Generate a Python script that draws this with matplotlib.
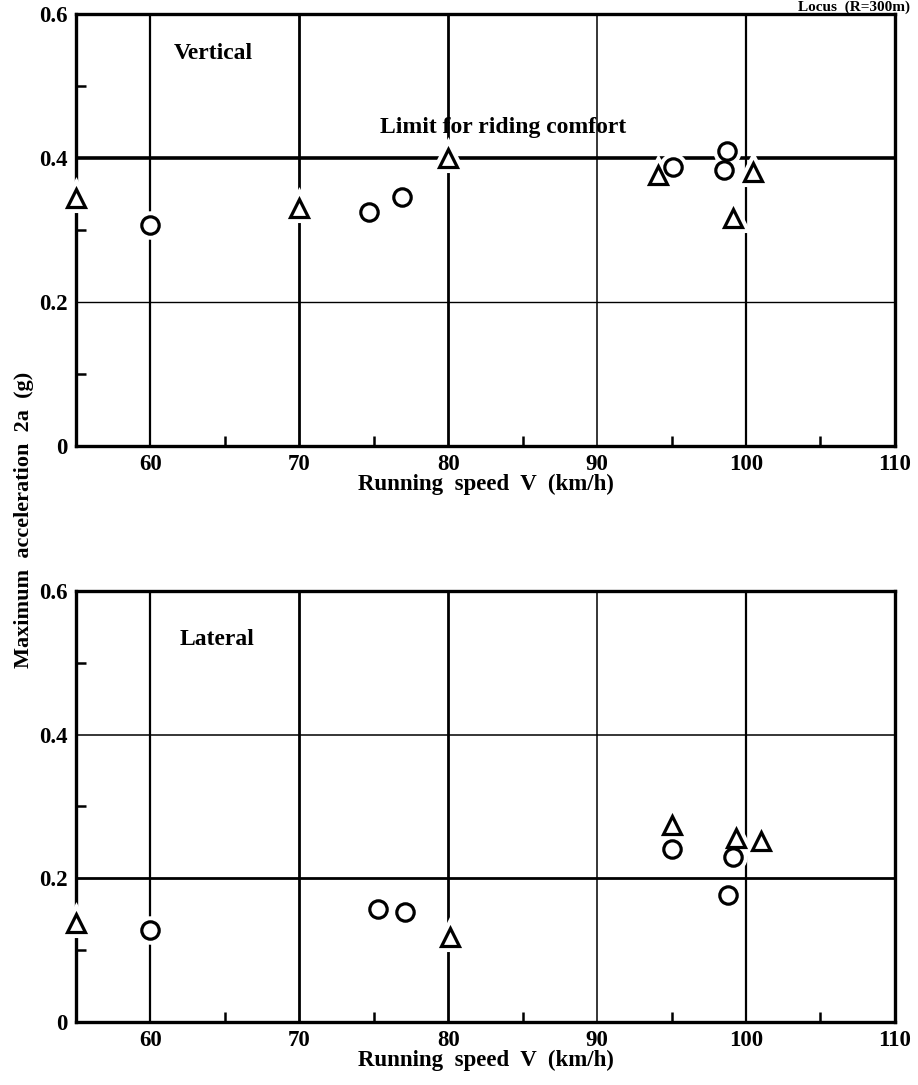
import matplotlib
matplotlib.use("Agg")
import matplotlib.pyplot as plt
from matplotlib.ticker import FixedLocator

# ---- data ----
x_ticks = [60, 70, 80, 90, 100, 110]
x_minor = [65, 75, 85, 95, 105]
y_ticks = [0, 0.2, 0.4, 0.6]
y_tick_labels = ["0", "0.2", "0.4", "0.6"]
y_minor = [0.1, 0.3, 0.5]

vert_tri_v = [55, 70, 80, 94.1, 99.1, 100.5]
vert_tri_a = [0.345, 0.330, 0.400, 0.376, 0.317, 0.380]
vert_cir_v = [60, 74.7, 76.9, 95.1, 98.7, 98.5]
vert_cir_a = [0.307, 0.325, 0.346, 0.387, 0.410, 0.383]

lat_tri_v = [55, 80.1, 95.0, 99.3, 101.0]
lat_tri_a = [0.138, 0.118, 0.274, 0.256, 0.252]
lat_cir_v = [60, 75.3, 77.1, 95.0, 99.1, 98.8]
lat_cir_a = [0.128, 0.157, 0.153, 0.241, 0.230, 0.177]

comfort_limit = 0.4

FONT = "Liberation Serif"
plt.rcParams['font.family'] = [FONT, 'DejaVu Serif']
plt.rcParams['font.weight'] = 'bold'

fig = plt.figure(figsize=(9.18, 10.85), dpi=100)
ax1 = fig.add_axes([0.0828, 0.5889, 0.892, 0.3982])
ax2 = fig.add_axes([0.0828, 0.0581, 0.892, 0.3972])

vgrid_lw = {60: 1.6, 70: 2.0, 80: 2.0, 90: 1.1, 100: 1.6}

def style(ax, hgrid):
    ax.set_xlim(55, 110)
    ax.set_ylim(0, 0.6)
    for v in x_ticks[:-1]:
        ax.axvline(v, color='black', lw=vgrid_lw[v], zorder=1)
    for y, lw in hgrid:
        ax.axhline(y, color='black', lw=lw, zorder=1)
    ax.xaxis.set_major_locator(FixedLocator(x_ticks))
    ax.xaxis.set_minor_locator(FixedLocator(x_minor))
    ax.yaxis.set_major_locator(FixedLocator(y_ticks))
    ax.yaxis.set_minor_locator(FixedLocator(y_minor))
    ax.set_yticklabels(y_tick_labels)
    ax.tick_params(axis='both', which='major', length=0, labelsize=16.5, pad=6)
    ax.tick_params(axis='both', which='minor', length=7, width=1.8,
                   direction='in', color='black')
    for s in ax.spines.values():
        s.set_linewidth(2.4)
    ax.set_xlabel("Running  speed  V  (km/h)", fontsize=16.5, labelpad=-1,
                  fontweight='bold')

def markers(ax, tv, ta, cv, ca):
    ax.plot(tv, ta, ls='none', marker='^', ms=13, mfc='white', mec='white',
            mew=8, zorder=3, clip_on=False)
    ax.plot(cv, ca, ls='none', marker='o', ms=12.5, mfc='white', mec='white',
            mew=8, zorder=3, clip_on=False)
    ax.plot(tv, ta, ls='none', marker='^', ms=13, mfc='white', mec='black',
            mew=2.3, zorder=4, clip_on=False)
    ax.plot(cv, ca, ls='none', marker='o', ms=12.5, mfc='white', mec='black',
            mew=2.3, zorder=4, clip_on=False)

style(ax1, [(0.2, 1.0), (comfort_limit, 2.6)])
style(ax2, [(0.2, 2.0), (0.4, 1.1)])
markers(ax1, vert_tri_v, vert_tri_a, vert_cir_v, vert_cir_a)
markers(ax2, lat_tri_v, lat_tri_a, lat_cir_v, lat_cir_a)

ax1.text(64.2, 0.545, "Vertical", fontsize=17, ha='center', va='center')
ax1.text(83.7, 0.443, "Limit for riding comfort", fontsize=17,
         ha='center', va='center')
ax2.text(64.5, 0.532, "Lateral", fontsize=17, ha='center', va='center')

fig.text(0.026, 0.521, "Maximum  acceleration  2a  (g)", rotation=90,
         fontsize=16, ha='center', va='center')
fig.text(0.93, 0.9995, "Locus  (R=300m)", fontsize=11,
         ha='center', va='top')

fig.savefig("out.png", dpi=100)
